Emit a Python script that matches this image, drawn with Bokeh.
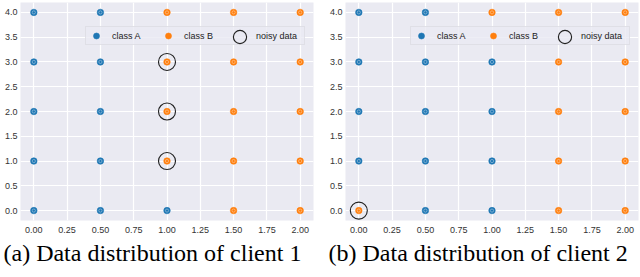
from bokeh.plotting import figure
from bokeh.layouts import row
from bokeh.models import Legend, LegendItem, FixedTicker, PrintfTickFormatter, Range1d
from bokeh.embed import file_html
from bokeh.resources import INLINE

# ---- data ----
grid_x = [0.0, 0.5, 1.0, 1.5, 2.0]
grid_y = [0.0, 1.0, 2.0, 3.0, 4.0]

# rows by y (0 -> 4), columns by x (0 -> 2)
client1_labels = [
    ["A", "A", "A", "B", "B"],
    ["A", "A", "B", "B", "B"],
    ["A", "A", "B", "B", "B"],
    ["A", "A", "B", "B", "B"],
    ["A", "A", "B", "B", "B"],
]
client2_labels = [
    ["B", "A", "A", "B", "B"],
    ["A", "A", "A", "B", "B"],
    ["A", "A", "A", "B", "B"],
    ["A", "A", "A", "B", "B"],
    ["A", "A", "B", "B", "B"],
]
client1_noisy_x = [1.0, 1.0, 1.0]
client1_noisy_y = [1.0, 2.0, 3.0]
client2_noisy_x = [0.0]
client2_noisy_y = [0.0]

x_ticks = [0.0, 0.25, 0.5, 0.75, 1.0, 1.25, 1.5, 1.75, 2.0]
y_ticks = [0.0, 0.5, 1.0, 1.5, 2.0, 2.5, 3.0, 3.5, 4.0]
captions = ["(a) Data distribution of client 1", "(b) Data distribution of client 2"]

BLUE = "#1f77b4"
ORANGE = "#ff7f0e"
BG = "#EAEAF2"


def make_panel(labels, nx, ny, caption, border_left, border_right, cap_offset, leg_x):
    p = figure(width=320, height=277, output_backend="svg", toolbar_location=None,
               title_location="below",
               x_range=Range1d(-0.1, 2.1), y_range=Range1d(-0.2, 4.2),
               min_border_left=border_left, min_border_right=border_right,
               min_border_top=2, min_border_bottom=57)
    p.background_fill_color = BG
    p.border_fill_color = "white"
    p.outline_line_color = None

    p.xaxis.ticker = FixedTicker(ticks=x_ticks)
    p.yaxis.ticker = FixedTicker(ticks=y_ticks)
    p.xaxis.formatter = PrintfTickFormatter(format="%.2f")
    p.yaxis.formatter = PrintfTickFormatter(format="%.1f")
    for ax in (p.xaxis, p.yaxis):
        ax.axis_line_color = None
        ax.major_tick_line_color = None
        ax.minor_tick_line_color = None
        ax.major_tick_out = 0
        ax.major_tick_in = 0
        ax.minor_tick_out = 0
        ax.major_label_text_font = "Liberation Sans"
        ax.major_label_text_font_size = "9px"
        ax.major_label_text_color = "#333333"
    p.xaxis.major_label_standoff = 6
    p.yaxis.major_label_standoff = 3
    p.grid.grid_line_color = "white"
    p.grid.grid_line_width = 1.2

    ax_, ay_, bx_, by_ = [], [], [], []
    for j, yv in enumerate(grid_y):
        for i, xv in enumerate(grid_x):
            if labels[j][i] == "A":
                ax_.append(xv); ay_.append(yv)
            else:
                bx_.append(xv); by_.append(yv)

    ra = p.scatter(ax_, ay_, size=6.5, fill_color=BLUE, line_color=BLUE, line_width=0.6)
    p.scatter(ax_, ay_, size=3.2, fill_color=None, line_color="white", line_alpha=0.45, line_width=0.8)
    rb = p.scatter(bx_, by_, size=6.5, fill_color=ORANGE, line_color=ORANGE, line_width=0.6)
    p.scatter(bx_, by_, size=3.2, fill_color=None, line_color="white", line_alpha=0.45, line_width=0.8)
    rn = p.scatter(nx, ny, size=17, fill_color=None, line_color="#222222", line_width=1.15)
    rdummy = p.scatter([], [], size=6, fill_alpha=0, line_alpha=0)

    x1, y1 = leg_x, 175
    leg1 = Legend(items=[LegendItem(label="class A", renderers=[ra]),
                         LegendItem(label="class B", renderers=[rb]),
                         LegendItem(label="noisy data", renderers=[rdummy])],
                  orientation="horizontal", location=(x1, y1),
                  glyph_width=18, glyph_height=15, label_height=15, label_width=47,
                  label_standoff=7, spacing=0, padding=1, margin=0,
                  label_text_font="Liberation Sans", label_text_font_size="9px",
                  label_text_color="#222222", label_text_baseline="middle",
                  background_fill_color=BG, background_fill_alpha=0.8,
                  border_line_color="#d4d4da", border_line_width=1)
    p.add_layout(leg1)
    leg2 = Legend(items=[LegendItem(label=" ", renderers=[rn])],
                  orientation="horizontal", location=(x1 + 1 + 144 - 7.5, y1 + 8.5 - 16.5),
                  glyph_width=33, glyph_height=33, label_height=0, label_width=0,
                  label_standoff=0, spacing=0, padding=0, margin=0,
                  label_text_font_size="1px",
                  background_fill_alpha=0, border_line_alpha=0)
    p.add_layout(leg2)

    p.title.text = caption
    p.title.text_font = "Liberation Serif"
    p.title.text_font_size = "24px"
    p.title.text_font_style = "normal"
    p.title.text_color = "black"
    p.title.align = "left"
    p.title.offset = cap_offset
    p.title.standoff = 4
    return p


p1 = make_panel(client1_labels, client1_noisy_x, client1_noisy_y, captions[0], 20, 7, -17, 65)
p2 = make_panel(client2_labels, client2_noisy_x, client2_noisy_y, captions[1], 25, 2, -17, 65)
layout = row(p1, p2)

open("out.html", "w").write(file_html(layout, INLINE))
